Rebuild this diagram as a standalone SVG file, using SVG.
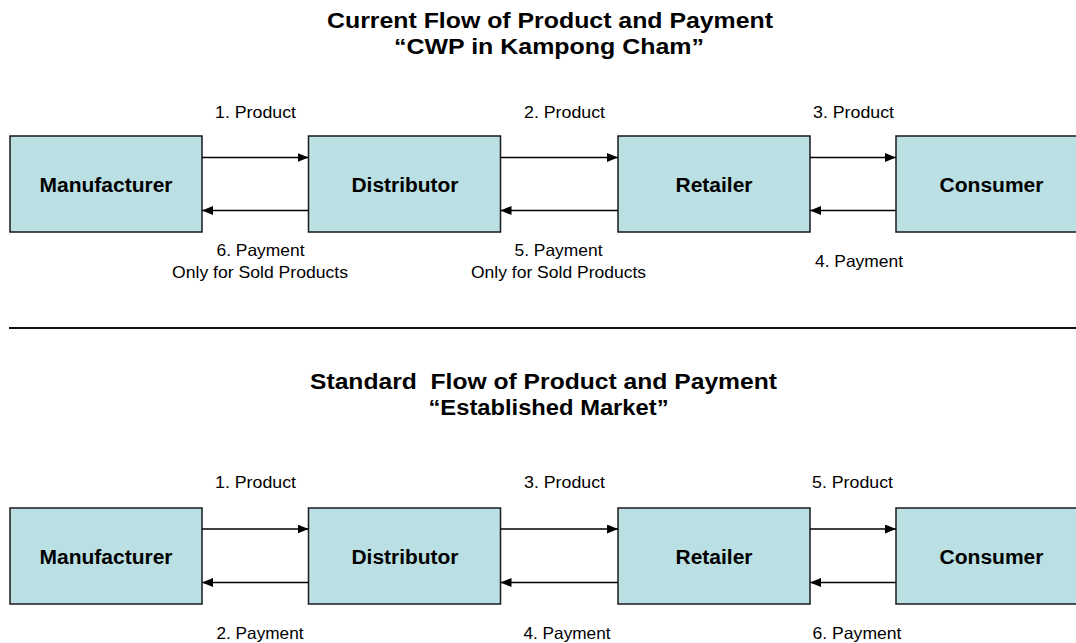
<svg xmlns="http://www.w3.org/2000/svg" width="1076" height="643" viewBox="0 0 1076 643">
  <defs>
    <marker id="head" markerUnits="userSpaceOnUse" markerWidth="12" markerHeight="10" refX="11" refY="4.5" orient="auto">
      <path d="M0,0 L11,4.5 L0,9 z" fill="#000"/>
    </marker>
    <style>
      .box { fill: #bae0e3; stroke: #1a1a1a; stroke-width: 1.5; }
      .node-label { font-family: "Liberation Sans", Arial, sans-serif; font-weight: bold; font-size: 20px; fill: #000; text-anchor: middle; }
      .title { font-family: "Liberation Sans", Arial, sans-serif; font-weight: bold; font-size: 22px; fill: #000; text-anchor: middle; }
      .edge-label { font-family: "Liberation Sans", Arial, sans-serif; font-size: 16.5px; fill: #000; text-anchor: middle; }
      .flow { stroke: #000; stroke-width: 1.5; fill: none; marker-end: url(#head); }
      .divider { stroke: #111; stroke-width: 2; }
    </style>
  </defs>

  <rect width="1076" height="643" fill="#fff"/>

  <!-- Section 1 title -->
  <g id="title-current">
    <text class="title" x="550" y="28" textLength="446" lengthAdjust="spacingAndGlyphs">Current Flow of Product and Payment</text>
    <text class="title" x="549" y="54" textLength="310" lengthAdjust="spacingAndGlyphs">“CWP in Kampong Cham”</text>
  </g>

  <!-- Section 1 nodes -->
  <g id="cur-manufacturer">
    <rect class="box" x="10" y="136" width="192" height="96"/>
    <text class="node-label" x="106" y="191.5" textLength="133" lengthAdjust="spacingAndGlyphs">Manufacturer</text>
  </g>
  <g id="cur-distributor">
    <rect class="box" x="308.5" y="136" width="192" height="96"/>
    <text class="node-label" x="405" y="191.5" textLength="107" lengthAdjust="spacingAndGlyphs">Distributor</text>
  </g>
  <g id="cur-retailer">
    <rect class="box" x="618" y="136" width="192" height="96"/>
    <text class="node-label" x="714" y="191.5" textLength="77" lengthAdjust="spacingAndGlyphs">Retailer</text>
  </g>
  <g id="cur-consumer">
    <rect class="box" x="896" y="136" width="192" height="96"/>
    <text class="node-label" x="991.5" y="191.5" textLength="104" lengthAdjust="spacingAndGlyphs">Consumer</text>
  </g>

  <!-- Section 1 connectors -->
  <g id="cur-connectors">
    <line class="flow" x1="202" y1="157.5" x2="308.5" y2="157.5"/>
    <line class="flow" x1="500.5" y1="157.5" x2="618" y2="157.5"/>
    <line class="flow" x1="810" y1="157.5" x2="896" y2="157.5"/>
    <line class="flow" x1="896" y1="210.5" x2="810" y2="210.5"/>
    <line class="flow" x1="618" y1="210.5" x2="500.5" y2="210.5"/>
    <line class="flow" x1="308.5" y1="210.5" x2="202" y2="210.5"/>
    <text class="edge-label" x="255.5" y="118" textLength="81" lengthAdjust="spacingAndGlyphs">1. Product</text>
    <text class="edge-label" x="564.5" y="118" textLength="81" lengthAdjust="spacingAndGlyphs">2. Product</text>
    <text class="edge-label" x="853.5" y="118" textLength="81" lengthAdjust="spacingAndGlyphs">3. Product</text>
    <text class="edge-label" x="859" y="267" textLength="88" lengthAdjust="spacingAndGlyphs">4. Payment</text>
    <text class="edge-label" x="558.5" y="256" textLength="88" lengthAdjust="spacingAndGlyphs">5. Payment</text>
    <text class="edge-label" x="558.5" y="278" textLength="175" lengthAdjust="spacingAndGlyphs">Only for Sold Products</text>
    <text class="edge-label" x="260.5" y="256" textLength="88" lengthAdjust="spacingAndGlyphs">6. Payment</text>
    <text class="edge-label" x="260" y="278" textLength="176" lengthAdjust="spacingAndGlyphs">Only for Sold Products</text>
  </g>

  <!-- Divider between the two flows -->
  <line class="divider" x1="9" y1="328" x2="1076" y2="328"/>

  <!-- Section 2 title -->
  <g id="title-standard">
    <text class="title" x="543.5" y="389" textLength="467" lengthAdjust="spacingAndGlyphs" xml:space="preserve">Standard  Flow of Product and Payment</text>
    <text class="title" x="548.5" y="415" textLength="240" lengthAdjust="spacingAndGlyphs">“Established Market”</text>
  </g>

  <!-- Section 2 nodes -->
  <g id="std-manufacturer">
    <rect class="box" x="10" y="508" width="192" height="96"/>
    <text class="node-label" x="106" y="563.5" textLength="133" lengthAdjust="spacingAndGlyphs">Manufacturer</text>
  </g>
  <g id="std-distributor">
    <rect class="box" x="308.5" y="508" width="192" height="96"/>
    <text class="node-label" x="405" y="563.5" textLength="107" lengthAdjust="spacingAndGlyphs">Distributor</text>
  </g>
  <g id="std-retailer">
    <rect class="box" x="618" y="508" width="192" height="96"/>
    <text class="node-label" x="714" y="563.5" textLength="77" lengthAdjust="spacingAndGlyphs">Retailer</text>
  </g>
  <g id="std-consumer">
    <rect class="box" x="896" y="508" width="192" height="96"/>
    <text class="node-label" x="991.5" y="563.5" textLength="104" lengthAdjust="spacingAndGlyphs">Consumer</text>
  </g>

  <!-- Section 2 connectors -->
  <g id="std-connectors">
    <line class="flow" x1="202" y1="529" x2="308.5" y2="529"/>
    <line class="flow" x1="500.5" y1="529" x2="618" y2="529"/>
    <line class="flow" x1="810" y1="529" x2="896" y2="529"/>
    <line class="flow" x1="896" y1="582.5" x2="810" y2="582.5"/>
    <line class="flow" x1="618" y1="582.5" x2="500.5" y2="582.5"/>
    <line class="flow" x1="308.5" y1="582.5" x2="202" y2="582.5"/>
    <text class="edge-label" x="255.5" y="488" textLength="81" lengthAdjust="spacingAndGlyphs">1. Product</text>
    <text class="edge-label" x="564.5" y="488" textLength="81" lengthAdjust="spacingAndGlyphs">3. Product</text>
    <text class="edge-label" x="852.5" y="488" textLength="81" lengthAdjust="spacingAndGlyphs">5. Product</text>
    <text class="edge-label" x="260" y="639" textLength="87" lengthAdjust="spacingAndGlyphs">2. Payment</text>
    <text class="edge-label" x="567" y="639" textLength="87" lengthAdjust="spacingAndGlyphs">4. Payment</text>
    <text class="edge-label" x="857" y="639" textLength="89" lengthAdjust="spacingAndGlyphs">6. Payment</text>
  </g>
</svg>
